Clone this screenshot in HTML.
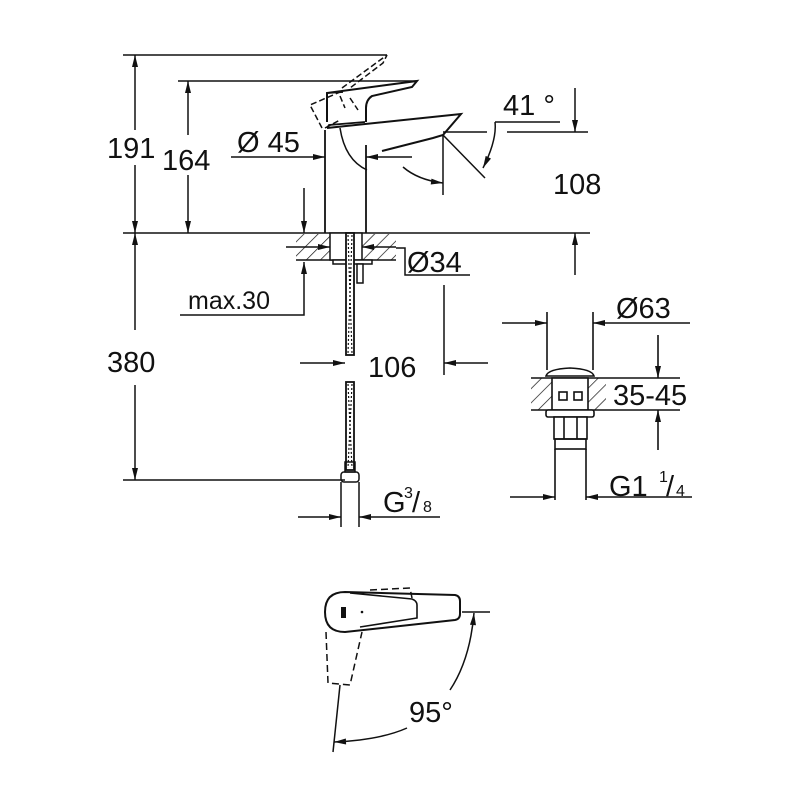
<!DOCTYPE html>
<html><head><meta charset="utf-8"><style>
html,body{margin:0;padding:0;background:#fff}
svg{display:block}
text{font-family:"Liberation Sans",sans-serif;fill:#111}
</style></head><body>
<svg width="800" height="800" viewBox="0 0 800 800" xmlns="http://www.w3.org/2000/svg">
<defs>
<marker id="a" viewBox="0 0 12 6" refX="12" refY="3" markerWidth="13" markerHeight="6" orient="auto-start-reverse" markerUnits="userSpaceOnUse"><path d="M0,0 L12,3 L0,6 z" fill="#111"/></marker>
<pattern id="h" width="10" height="10" patternUnits="userSpaceOnUse" patternTransform="rotate(45)"><line x1="0" y1="0" x2="0" y2="10" stroke="#111" stroke-width="1.4"/></pattern>
</defs>
<g fill="none" stroke="#111" stroke-width="1.5">
<line x1="123" y1="55" x2="387" y2="55"/>
<line x1="178" y1="81" x2="417" y2="81"/>
<line x1="123" y1="233" x2="590" y2="233"/>
<line x1="123" y1="480" x2="345" y2="480"/>
<line x1="135" y1="55" x2="135" y2="130" marker-start="url(#a)"/>
<line x1="135" y1="165" x2="135" y2="233" marker-end="url(#a)"/>
<line x1="135" y1="233" x2="135" y2="330" marker-start="url(#a)"/>
<line x1="135" y1="385" x2="135" y2="480" marker-end="url(#a)"/>
<line x1="188" y1="81" x2="188" y2="135" marker-start="url(#a)"/>
<line x1="188" y1="175" x2="188" y2="233" marker-end="url(#a)"/>
<line x1="325" y1="130" x2="325" y2="233" stroke-width="1.8"/>
<line x1="366" y1="145" x2="366" y2="233" stroke-width="1.8"/>
<path d="M327,128 L461,114 L443,135 L433,138 L382,151" stroke-width="2"/>
<path d="M327,128 L329,125 L365,122" stroke-width="1.7"/>
<path d="M327,122 L327,93 L417,81 L412,87 L372,96 Q366,100 366,108 L366,122" stroke-width="2"/>
<path d="M327,93 L343,92" stroke-width="1.7"/>
<path d="M322,128 L310,105 L340,92 M325,128 L340,120 M342,88 L387,55 L383,63 L350,88 M350,98 L358,110 M340,96 L345,108" stroke-dasharray="6,3"/>
<path d="M340,128 Q345,160 367,170"/>
<path d="M403,167 Q418,180 443,183" marker-end="url(#a)"/>
<line x1="443" y1="135" x2="443" y2="195"/>
<line x1="443" y1="135" x2="485" y2="178"/>
<line x1="443" y1="132" x2="487" y2="132"/>
<path d="M495,122 Q497,140 483,168" marker-end="url(#a)"/>
<line x1="495" y1="122" x2="560" y2="122"/>
<line x1="507" y1="132" x2="588" y2="132"/>
<line x1="575" y1="88" x2="575" y2="132" marker-end="url(#a)"/>
<line x1="575" y1="275" x2="575" y2="233" marker-end="url(#a)"/>
<line x1="231" y1="157" x2="325" y2="157" marker-end="url(#a)"/>
<line x1="412" y1="157" x2="366" y2="157" marker-end="url(#a)"/>
<line x1="304" y1="188" x2="304" y2="233" marker-end="url(#a)"/>
<polyline points="180,315 304,315 304,262" marker-end="url(#a)"/>
</g>
<rect x="296" y="234" width="34" height="26" fill="url(#h)"/>
<rect x="362" y="234" width="34" height="26" fill="url(#h)"/>
<g fill="none" stroke="#111" stroke-width="1.5">
<line x1="296" y1="260" x2="396" y2="260"/>
<rect x="330" y="233" width="32" height="27" fill="#fff"/>
<rect x="333" y="260" width="39" height="4" fill="#fff"/>
<rect x="357" y="264" width="6" height="19" fill="#fff"/>
<line x1="286" y1="247" x2="330" y2="247" marker-end="url(#a)"/>
<line x1="396" y1="247" x2="362" y2="247" marker-end="url(#a)"/>
<polyline points="396,248 405,248 405,275 470,275"/>
<rect x="346" y="233" width="8" height="122" fill="#fff" stroke-width="1.8"/>
<rect x="346" y="382" width="8" height="88" fill="#fff" stroke-width="1.8"/>
<rect x="345" y="462" width="10" height="10"/>
<rect x="341" y="472" width="18" height="10" rx="3"/>
<line x1="341" y1="482" x2="341" y2="527"/>
<line x1="359" y1="482" x2="359" y2="527"/>
<line x1="298" y1="517" x2="341" y2="517" marker-end="url(#a)"/>
<line x1="440" y1="517" x2="359" y2="517" marker-end="url(#a)"/>
<line x1="300" y1="363" x2="345" y2="363" marker-end="url(#a)"/>
<line x1="488" y1="363" x2="444" y2="363" marker-end="url(#a)"/>
<line x1="444" y1="285" x2="444" y2="375"/>
</g>
<g stroke="#111" stroke-width="1.2" stroke-dasharray="2,2" fill="none"><line x1="348" y1="235" x2="352" y2="353"/><line x1="352" y1="235" x2="348" y2="353"/><line x1="348" y1="384" x2="352" y2="468"/><line x1="352" y1="384" x2="348" y2="468"/></g>
<rect x="531" y="378" width="75" height="32" fill="url(#h)"/>
<g fill="none" stroke="#111" stroke-width="1.6">
<line x1="531" y1="378" x2="680" y2="378"/>
<line x1="531" y1="410" x2="680" y2="410"/>
<path d="M546,376 Q548,369 570,368 Q592,369 594,376 Z" fill="#fff"/>
<rect x="552" y="378" width="36" height="32" fill="#fff"/>
<rect x="559" y="392" width="8" height="8"/><rect x="574" y="392" width="8" height="8"/>
<rect x="546" y="410" width="48" height="7" rx="2" fill="#fff"/>
<rect x="554" y="417" width="33" height="22" fill="#fff"/>
<line x1="564" y1="417" x2="564" y2="439"/><line x1="577" y1="417" x2="577" y2="439"/>
<rect x="555" y="439" width="31" height="10"/>
<line x1="555" y1="449" x2="555" y2="500"/><line x1="586" y1="449" x2="586" y2="500"/>
<line x1="547" y1="312" x2="547" y2="370"/><line x1="593" y1="312" x2="593" y2="370"/>
<line x1="502" y1="323" x2="547" y2="323" marker-end="url(#a)"/>
<line x1="690" y1="323" x2="593" y2="323" marker-end="url(#a)"/>
<line x1="658" y1="335" x2="658" y2="378" marker-end="url(#a)"/>
<line x1="658" y1="450" x2="658" y2="410" marker-end="url(#a)"/>
<line x1="510" y1="497" x2="555" y2="497" marker-end="url(#a)"/>
<line x1="692" y1="497" x2="586" y2="497" marker-end="url(#a)"/>
</g>
<g fill="none" stroke="#111" stroke-width="2">
<path d="M345,592 L455,595 Q460,596 460,601 L460,614 Q460,619 455,620 L345,632 Q325,632 325,612 Q325,592 345,592 Z"/>
<path d="M350,593 L412,599 Q417,601 417,605 L417,618 L360,627" stroke-width="1.6"/>
</g>
<rect x="341" y="607" width="5" height="11" fill="#111"/>
<circle cx="362" cy="612" r="1.3" fill="#111"/>
<g fill="none" stroke="#111" stroke-width="1.5">
<path d="M326,632 L328,683 L350,685 L362,632" stroke-dasharray="7,4"/>
<path d="M370,590 L410,588 L412,598" stroke-dasharray="7,4"/>
<line x1="340" y1="685" x2="333" y2="752"/>
<line x1="462" y1="612" x2="490" y2="612"/>
<path d="M450,690 Q470,660 474,613" marker-end="url(#a)"/>
<path d="M407,728 Q380,740 334,742" marker-end="url(#a)"/>
</g>
<g font-size="29">
<text x="107" y="158">191</text>
<text x="162" y="170">164</text>
<text x="237" y="152">Ø 45</text>
<text x="503" y="115">41 °</text>
<text x="553" y="194">108</text>
<text x="407" y="272">Ø34</text>
<text x="188" y="309" font-size="25">max.30</text>
<text x="107" y="372">380</text>
<text x="368" y="377">106</text>
<text x="616" y="318">Ø63</text>
<text x="613" y="405">35-45</text>
<text x="609" y="496">G1</text>
<text x="659" y="482" font-size="16">1</text>
<text x="666" y="496">/</text>
<text x="676" y="496" font-size="16">4</text>
<text x="383" y="512">G</text>
<text x="404" y="498" font-size="16">3</text>
<text x="412" y="512">/</text>
<text x="423" y="512" font-size="16">8</text>
<text x="409" y="722">95°</text>
</g>
</svg>
</body></html>
